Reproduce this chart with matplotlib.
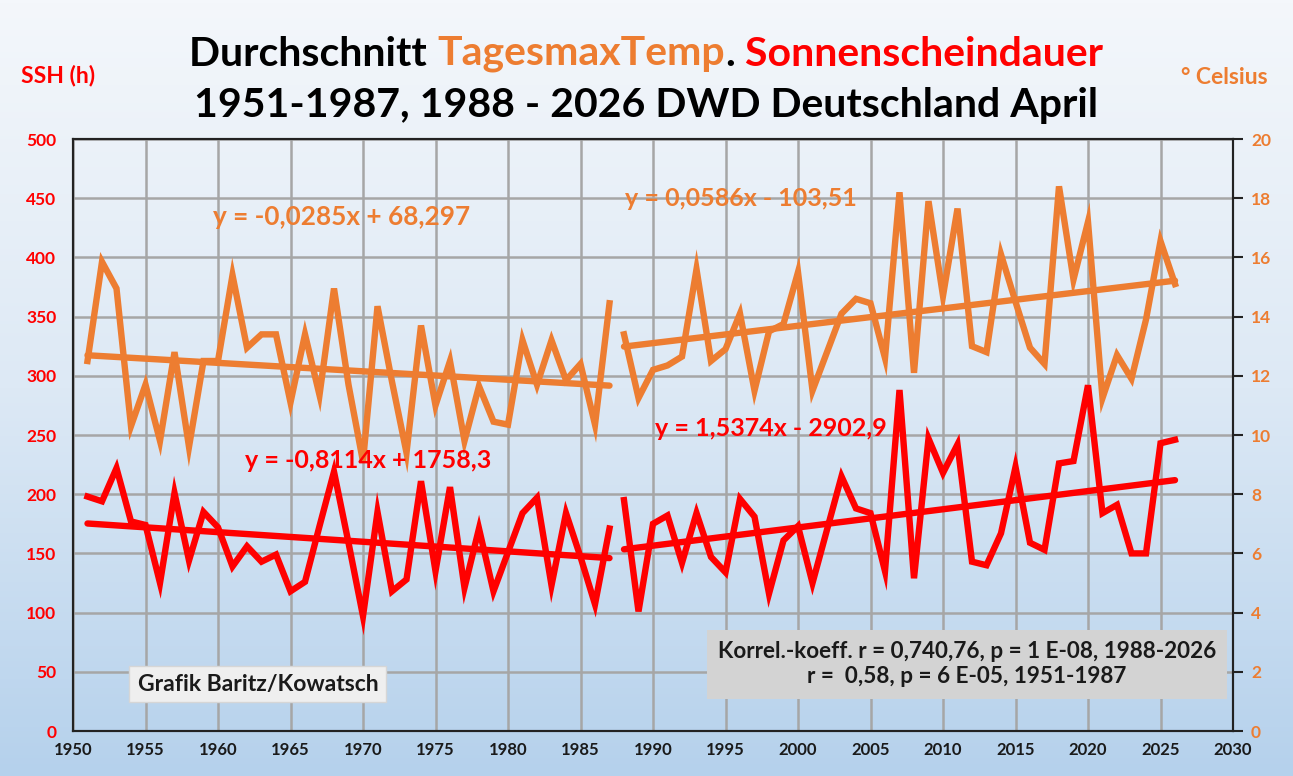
import numpy as np
import matplotlib
matplotlib.use("Agg")
import matplotlib.pyplot as plt
from matplotlib.colors import LinearSegmentedColormap
from matplotlib.patches import Rectangle

plt.rcParams['font.family'] = ['Lato', 'DejaVu Sans']

# ---------------- data ----------------
years_a = list(range(1951, 1988))
years_b = list(range(1988, 2027))

temp_a = [12.5, 15.85, 14.95, 10.3, 11.7, 9.8, 12.8, 9.6, 12.5, 12.5,
          15.4, 12.95, 13.4, 13.4, 11.1, 13.4, 11.35, 14.95, 11.7, 9.1,
          14.35, 11.8, 9.4, 13.7, 11.0, 12.5, 9.8, 11.65, 10.45, 10.35,
          13.2, 11.7, 13.2, 11.85, 12.4, 10.35, 14.45]
temp_b = [13.4, 11.25, 12.2, 12.35, 12.65, 15.6, 12.5, 12.9, 14.1, 11.5,
          13.5, 13.75, 15.5, 11.5, 12.8, 14.1, 14.6, 14.45, 12.6, 18.2,
          12.1, 17.9, 14.7, 17.65, 13.0, 12.8, 16.1, 14.5, 12.95, 12.4,
          18.4, 15.25, 17.2, 11.25, 12.7, 11.9, 13.9, 16.55, 15.1]

ssh_a = [198, 194, 222, 177, 174, 125, 201, 144, 185, 172,
         139, 156, 143, 149, 118, 126, 173, 219, 159, 97,
         185, 118, 128, 211, 135, 206, 121, 171, 118, 151,
         184, 197, 123, 184, 147, 107, 171]
ssh_b = [195, 101, 175, 182, 142, 184, 147, 134, 196, 181,
         116, 161, 173, 125, 170, 215, 188, 184, 135, 288,
         129, 247, 218, 242, 143, 140, 167, 223, 159, 153,
         226, 228, 292, 184, 191, 150, 150, 243, 246]

# trend-line equations as printed on the chart (slope, intercept)
trend_temp_a = (-0.0285, 68.297)
trend_temp_b = (0.0586, -103.51)
trend_ssh_a = (-0.8114, 1758.3)
trend_ssh_b = (1.5374, -2902.9)

x_ticks = list(range(1950, 2031, 5))
ssh_ticks = list(range(0, 501, 50))
temp_ticks = list(range(0, 21, 2))

title_parts = [("Durchschnitt ", "black"), ("TagesmaxTemp", "#ED7D31"),
               (".", "black"), (" Sonnenscheindauer", "#FF0000")]
title_line2 = "1951-1987, 1988 - 2026 DWD Deutschland April"
korrel_text = "Korrel.-koeff. r = 0,740,76, p = 1 E-08, 1988-2026\nr =  0,58, p = 6 E-05, 1951-1987"
credit_text = "Grafik Baritz/Kowatsch"

ORANGE = "#ED7D31"
RED = "#FF0000"

# ---------------- figure ----------------
W, H = 1293, 776
fig = plt.figure(figsize=(W / 100, H / 100), dpi=100)

def fx(px):
    return px / W

def fy(py):
    return 1 - py / H

# background gradient over full figure
bg = fig.add_axes([0, 0, 1, 1], zorder=-10)
cmap = LinearSegmentedColormap.from_list("bg", ["#f4f7fb", "#dde9f5", "#b5d1ec"])
grad = np.linspace(0, 1, 256).reshape(-1, 1)
bg.imshow(grad, aspect="auto", cmap=cmap, extent=[0, 1, 0, 1], origin="upper")
bg.set_xlim(0, 1)
bg.set_ylim(0, 1)
bg.set_axis_off()

left, right, top, bottom = 73, 1233, 139, 731
ax = fig.add_axes([fx(left), fy(bottom), (right - left) / W, (bottom - top) / H])
ax.patch.set_alpha(0)
ax2 = ax.twinx()
ax2.patch.set_alpha(0)

ax.set_xlim(1950, 2030)
ax.set_ylim(0, 500)
ax2.set_ylim(0, 20)

ax.set_xticks(x_ticks)
ax.set_yticks(ssh_ticks)
ax2.set_yticks(temp_ticks)
ax.grid(True, color="#a6a6a6", linewidth=1.8, zorder=0)
ax.set_axisbelow(True)

for a in (ax, ax2):
    for sp in a.spines.values():
        sp.set_color("#222222")
        sp.set_linewidth(1.5)

ax.tick_params(axis="x", length=0, pad=8, labelsize=12, labelcolor="#1a1a1a")
ax.tick_params(axis="y", length=0, pad=12, labelsize=12.5, labelcolor=RED)
ax2.tick_params(axis="y", length=7, width=1.5, direction="out", pad=6,
                labelsize=12.5, labelcolor=ORANGE, color="#222222")
for lab in ax.get_xticklabels() + ax.get_yticklabels() + ax2.get_yticklabels():
    lab.set_fontweight("bold")

lw = 4.6
# sunshine (left axis)
ax.plot(years_a, ssh_a, color=RED, lw=lw, solid_joinstyle="miter", zorder=3)
ax.plot(years_b, ssh_b, color=RED, lw=lw, solid_joinstyle="miter", zorder=3)
for yrs, (m, b) in ((years_a, trend_ssh_a), (years_b, trend_ssh_b)):
    xs = np.array([yrs[0], yrs[-1]], dtype=float)
    ax.plot(xs, m * xs + b, color=RED, lw=lw, solid_capstyle="round", zorder=3)

# temperature (right axis)
ax2.plot(years_a, temp_a, color=ORANGE, lw=lw, solid_joinstyle="miter", zorder=3)
ax2.plot(years_b, temp_b, color=ORANGE, lw=lw, solid_joinstyle="miter", zorder=3)
for yrs, (m, b) in ((years_a, trend_temp_a), (years_b, trend_temp_b)):
    xs = np.array([yrs[0], yrs[-1]], dtype=float)
    ax2.plot(xs, m * xs + b, color=ORANGE, lw=lw, solid_capstyle="round", zorder=3)

# equation labels
def fmt(v, nd):
    return f"{v:.{nd}f}".replace(".", ",")

def eq(m, b, md, bd):
    sign = "+" if b >= 0 else "-"
    return f"y = {fmt(m, md)}x {sign} {fmt(abs(b), bd)}"

fig.text(fx(213), fy(217), eq(*trend_temp_a, 4, 3), color=ORANGE, fontsize=18.8,
         fontweight="bold", va="center", ha="left")
fig.text(fx(625), fy(199), eq(*trend_temp_b, 4, 2), color=ORANGE, fontsize=18,
         fontweight="bold", va="center", ha="left")
fig.text(fx(245), fy(461), eq(*trend_ssh_a, 4, 1), color=RED, fontsize=18,
         fontweight="bold", va="center", ha="left")
fig.text(fx(655), fy(428), eq(*trend_ssh_b, 4, 1), color=RED, fontsize=18,
         fontweight="bold", va="center", ha="left")

# correlation box
fig.patches.append(Rectangle((fx(707), fy(699)), (1227 - 707) / W, (699 - 630) / H,
                             transform=fig.transFigure, facecolor="#d3d3d3",
                             edgecolor="none", zorder=5))
fig.text(fx(967), fy(664), korrel_text, ha="center", va="center", fontsize=16.2,
         fontweight="bold", color="#1a1a1a", linespacing=1.25, zorder=6)

# credit box
fig.patches.append(Rectangle((fx(129), fy(702)), (386 - 129) / W, (702 - 666) / H,
                             transform=fig.transFigure, facecolor="#efefef",
                             edgecolor="#d6d6d6", lw=1, zorder=5))
fig.text(fx(258), fy(685), credit_text, ha="center", va="center",
         fontsize=16.5, fontweight="bold", color="#1a1a1a", zorder=6)

# axis unit labels
fig.text(fx(58), fy(75), "SSH (h)", color=RED, fontsize=16.5, fontweight="bold",
         ha="center", va="center")
fig.text(fx(1224), fy(77), "° Celsius", color=ORANGE, fontsize=16.5, fontweight="bold",
         ha="center", va="center")

# title line 1 (multi-coloured)
fs_title = 29.5
renderer = fig.canvas.get_renderer()
pieces = []
for txt, col in title_parts:
    t = fig.text(0, fy(54), txt, color=col, fontsize=fs_title, fontweight="bold",
                 ha="left", va="center")
    pieces.append(t)
widths = [p.get_window_extent(renderer=renderer).width for p in pieces]
total = sum(widths)
x0 = 646 - total / 2
for p, w in zip(pieces, widths):
    p.set_x(fx(x0))
    x0 += w
fig.text(fx(646), fy(105), title_line2, color="black", fontsize=fs_title,
         fontweight="bold", ha="center", va="center")

fig.savefig("out.png", dpi=100)
